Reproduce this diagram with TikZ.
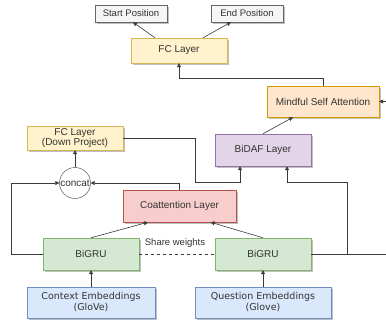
\documentclass[tikz,border=0pt]{standalone}
\usepackage{fontspec}
\setmainfont{Liberation Sans}
\newfontfamily\embfont{DejaVu Sans}
\usetikzlibrary{arrows.meta,shadows}

\definecolor{linegray}{HTML}{3A3A3A}
\definecolor{txtgray}{HTML}{333333}

\tikzset{
    box/.style={draw, rectangle, inner sep=1pt, align=center, text=txtgray,
        font=\fontsize{10}{11}\selectfont,
        drop shadow={shadow xshift=1.5pt, shadow yshift=-1.5pt, opacity=0.25, fill=black}},
    greybox/.style={box, fill=black!4, draw=black!60, minimum width=72pt, minimum height=17pt,
        font=\fontsize{9.5}{10}\selectfont, drop shadow={opacity=0}},
    yellowbox/.style={box, fill={rgb,255:red,255;green,242;blue,204}, draw={rgb,255:red,214;green,182;blue,86}},
    orangebox/.style={box, fill={rgb,255:red,255;green,230;blue,204}, draw={rgb,255:red,215;green,155;blue,0}},
    purplebox/.style={box, fill={rgb,255:red,225;green,213;blue,231}, draw={rgb,255:red,150;green,115;blue,166}},
    redbox/.style={box, fill={rgb,255:red,248;green,206;blue,204}, draw={rgb,255:red,184;green,84;blue,80}},
    greenbox/.style={box, fill={rgb,255:red,213;green,232;blue,212}, draw={rgb,255:red,130;green,179;blue,102}},
    bluebox/.style={box, fill={rgb,255:red,218;green,232;blue,252}, draw={rgb,255:red,108;green,142;blue,191},
        font=\embfont\fontsize{9.5}{11}\selectfont, line width=0.8pt},
    edge/.style={draw=linegray, line width=0.6pt, -{Triangle[length=4pt,width=4pt]}},
    plain/.style={draw=linegray, line width=0.6pt}
}

\begin{document}
\begin{tikzpicture}[x=1pt, y=-1pt]
    \useasboundingbox (0,0) rectangle (386,322);
    \clip (0,0) rectangle (386,322);
    % nodes
    \node[greybox] (start) at (131,13.5) {Start Position};
    \node[greybox] (end) at (247,13.5) {End Position};
    \node[yellowbox, minimum width=96pt, minimum height=25pt] (fc) at (179,50.5) {FC Layer};
    \node[orangebox, minimum width=112pt, minimum height=31pt] (msa) at (323,101.5) {Mindful Self Attention};
    \node[yellowbox, minimum width=96pt, minimum height=24pt, font=\fontsize{10}{10.5}\selectfont] (fcdown) at (75,138) {FC Layer\\(Down Project)};
    \node[purplebox, minimum width=96pt, minimum height=32pt] (bidaf) at (263,150) {BiDAF Layer};
    \node[draw=linegray, circle, fill=white, minimum size=31pt, inner sep=0pt, text=txtgray,
        font=\fontsize{10}{11}\selectfont] (concat) at (75,183) {concat};
    \node[redbox, minimum width=113pt, minimum height=32pt] (coatt) at (179.5,206) {Coattention Layer};
    \node[greenbox, minimum width=96pt, minimum height=32pt] (gru1) at (91,254) {BiGRU};
    \node[greenbox, minimum width=96pt, minimum height=32pt] (gru2) at (263,254) {BiGRU};
    \node[text=txtgray, font=\fontsize{9.5}{10}\selectfont] (share) at (175,243) {Share weights};
    \node[bluebox, minimum width=128pt, minimum height=31pt] (ctx) at (91,302.5) {Context Embeddings\\(GloVe)};
    \node[bluebox, minimum width=136pt, minimum height=31pt] (qst) at (263,302.5) {Question Embeddings\\(Glove)};
    % edges
    \draw[edge] ([xshift=-24pt]fc.north) -- ([xshift=2pt]start.south);
    \draw[edge] ([xshift=24pt]fc.north) -- ([xshift=-16pt]end.south);
    \draw[edge] (msa.north) -- ++(0,-8) -| (fc.south);
    \draw[edge] (bidaf.north) -- ([xshift=-30pt]msa.south);
    \draw[edge] (concat.north) -- (fcdown.south);
    \draw[edge] (fcdown.east) -- (195,138) -- (195,182) -| ([xshift=-23pt]bidaf.south);
    \draw[edge] (gru1.west) -- (11,254) |- (concat.west);
    \draw[edge] (coatt.north) |- (concat.east);
    \draw[edge] (gru1.north) -- ([xshift=-31.5pt]coatt.south);
    \draw[edge] (gru2.north) -- ([xshift=31pt]coatt.south);
    \draw[plain, dashed] (gru1.east) -- (gru2.west);
    \draw[edge] (gru2.east) -- (347,254) -- (347,182) -| ([xshift=24pt]bidaf.south);
    \draw[edge] (gru2.east) -- (400,254) |- (msa.east);
    \draw[edge] (ctx.north) -- (gru1.south);
    \draw[edge] (qst.north) -- (gru2.south);
\end{tikzpicture}
\end{document}
